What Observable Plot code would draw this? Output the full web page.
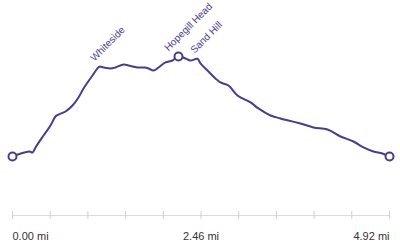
<!DOCTYPE html>
<html>
<head>
<meta charset="utf-8">
<script src="https://cdn.jsdelivr.net/npm/d3@7"></script>
<script src="https://cdn.jsdelivr.net/npm/@observablehq/plot@0.6"></script>
<style>
  html, body { margin: 0; padding: 0; background: #fff; }
</style>
</head>
<body>
<div id="chart"></div>
<script>
// Distance along route (miles)
const distance = [0, 0.065, 0.222, 0.261, 0.300, 0.405, 0.496, 0.561, 0.600, 0.692,
  0.783, 0.861, 0.927, 0.979, 1.044, 1.109, 1.135, 1.188, 1.279, 1.344,
  1.449, 1.514, 1.631, 1.723, 1.775, 1.840, 1.905, 1.997, 2.088, 2.166,
  2.258, 2.323, 2.414, 2.453, 2.545, 2.649, 2.714, 2.819, 2.936, 3.106,
  3.210, 3.367, 3.497, 3.758, 3.928, 4.111, 4.280, 4.450, 4.580, 4.711,
  4.828, 4.920];
// Elevation (m)
const elevation = [150, 162, 181, 175, 206, 280, 342, 398, 410, 429,
  466, 516, 572, 609, 652, 696, 707, 702, 696, 702,
  720, 714, 702, 702, 696, 683, 702, 733, 745, 770,
  758, 745, 756, 727, 683, 634, 609, 590, 528, 485,
  448, 404, 386, 355, 330, 317, 274, 243, 206, 181,
  169, 150];

const peakNames = ["Whiteside", "Hopegill Head", "Sand Hill"];
const peakDist = [1.135, 2.166, 2.414];
const peakElev = [707, 770, 756];
const peakDx = [-5, -10, -3];
const peakDy = [-5, -5, -5];

const tickValues = d3.range(11).map(i => +(i * 0.492).toFixed(3));
const labelValues = [0, 2.46, 4.92];
const labelTexts = ["0.00 mi", "2.46 mi", "4.92 mi"];

const profile = distance.map((d, i) => ({d, e: elevation[i]}));
const peaks = peakNames.map((n, i) => ({n, d: peakDist[i], e: peakElev[i], dx: peakDx[i], dy: peakDy[i]}));
const markers = [profile[0], profile[distance.indexOf(2.166)], profile[profile.length - 1]];
const labels = labelValues.map((v, i) => ({v, t: labelTexts[i], a: i === 0 ? "start" : i === 2 ? "end" : "middle"}));

const yMin = -215.8, yMax = 993.2;
const color = "#483d8b";

const chart = Plot.plot({
  width: 400,
  height: 250,
  marginLeft: 12,
  marginRight: 11,
  marginTop: 20,
  marginBottom: 35,
  x: {domain: [0, 4.92], axis: null},
  y: {domain: [yMin, yMax], axis: null},
  style: {fontFamily: "Liberation Sans, Arial, sans-serif", background: "#fff"},
  marks: [
    Plot.ruleY([yMin], {stroke: "#dcdcdc", strokeWidth: 1}),
    Plot.ruleX(tickValues, {x: d => d, y1: yMin, y2: yMin, insetTop: -4, insetBottom: -4, stroke: "#cfcfcf", strokeWidth: 1}),
    ...labels.map(l => Plot.text([l], {x: "v", y: yMin, text: "t", textAnchor: l.a, dy: 21, fontSize: 11, fill: "#333"})),
    Plot.line(profile, {x: "d", y: "e", stroke: color, strokeWidth: 2, curve: "catmull-rom"}),
    Plot.dot(markers, {x: "d", y: "e", r: 4, fill: "#fff", stroke: color, strokeWidth: 2}),
    ...peaks.map(p => Plot.text([p], {x: "d", y: "e", text: "n", textAnchor: "start", lineAnchor: "bottom", rotate: -45, dx: p.dx, dy: p.dy, fontSize: 10, fill: color}))
  ]
});
document.getElementById("chart").appendChild(chart);
</script>
</body>
</html>
